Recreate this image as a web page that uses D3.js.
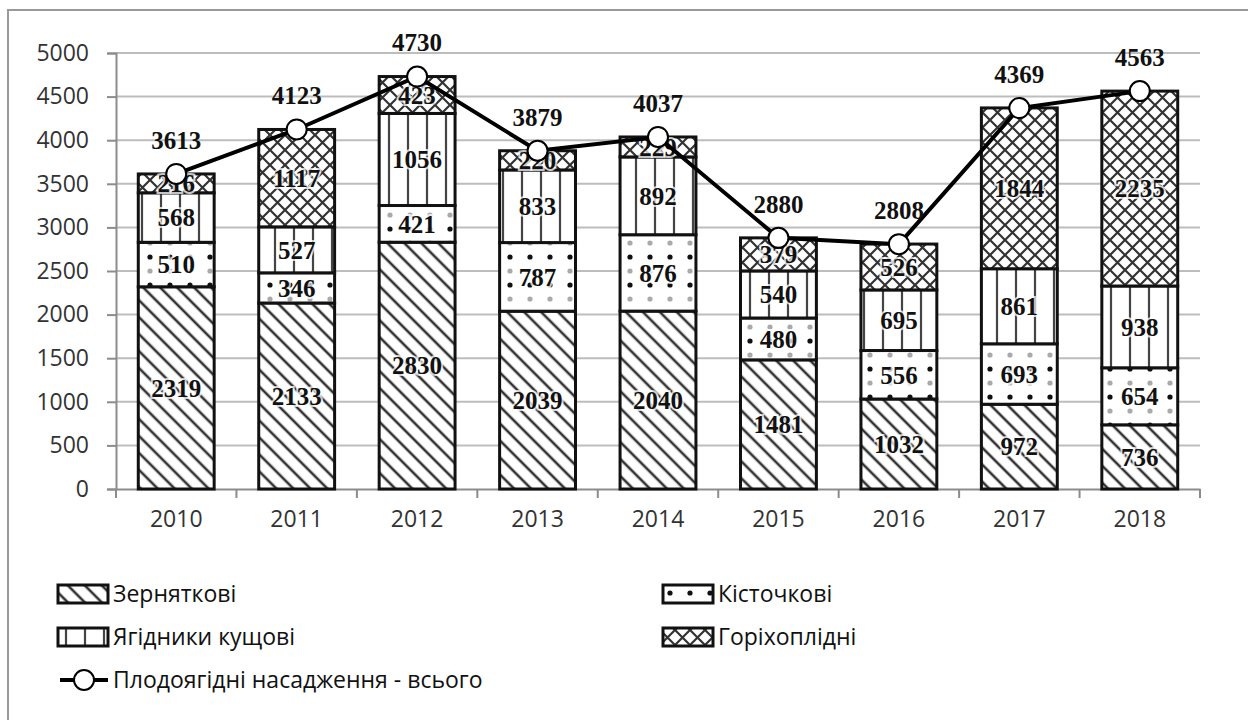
<!DOCTYPE html>
<html>
<head>
<meta charset="utf-8">
<script src="https://cdn.jsdelivr.net/npm/d3@7"></script>
<style>
  body { margin: 0; background: #fff; }
  svg { display: block; }
</style>
</head>
<body>
<div id="chart"></div>
<script>
var years = ["2010", "2011", "2012", "2013", "2014", "2015", "2016", "2017", "2018"];
var zernyatkovi = [2319, 2133, 2830, 2039, 2040, 1481, 1032, 972, 736];
var kistochkovi = [510, 346, 421, 787, 876, 480, 556, 693, 654];
var yagidnyky = [568, 527, 1056, 833, 892, 540, 695, 861, 938];
var horikhoplidni = [216, 1117, 423, 220, 229, 379, 526, 1844, 2235];
var vsogo = [3613, 4123, 4730, 3879, 4037, 2880, 2808, 4369, 4563];
var yTicks = [0, 500, 1000, 1500, 2000, 2500, 3000, 3500, 4000, 4500, 5000];

var seriesNames = ["Зерняткові", "Кісточкові", "Ягідники кущові", "Горіхоплідні"];
var lineName = "Плодоягідні насадження - всього";
var patIds = ["pDiag", "pDots", "pVert", "pCross"];

var width = 1248, height = 720;

var svg = d3.select("#chart").append("svg")
    .attr("width", width)
    .attr("height", height);

// patterns
var defs = svg.append("defs");

var p1 = defs.append("pattern").attr("id", "pDiag")
    .attr("patternUnits", "userSpaceOnUse")
    .attr("width", 12).attr("height", 12)
    .attr("patternTransform", "rotate(-45)");
p1.append("rect").attr("width", 12).attr("height", 12).attr("fill", "#fff");
p1.append("line").attr("x1", 6).attr("x2", 6).attr("y1", 0).attr("y2", 12)
    .attr("stroke", "#333").attr("stroke-width", 2.6);

var p2 = defs.append("pattern").attr("id", "pDots")
    .attr("patternUnits", "userSpaceOnUse")
    .attr("width", 20).attr("height", 28);
p2.append("rect").attr("width", 20).attr("height", 28).attr("fill", "#fff");
p2.append("circle").attr("cx", 10).attr("cy", 5).attr("r", 2.6).attr("fill", "#111");
p2.append("circle").attr("cx", 10).attr("cy", 19).attr("r", 2.6).attr("fill", "#aaa");

var p3 = defs.append("pattern").attr("id", "pVert")
    .attr("patternUnits", "userSpaceOnUse")
    .attr("width", 19).attr("height", 10);
p3.append("rect").attr("width", 19).attr("height", 10).attr("fill", "#fff");
p3.append("line").attr("x1", 9).attr("x2", 9).attr("y1", 0).attr("y2", 10)
    .attr("stroke", "#444").attr("stroke-width", 2.2);

var p4 = defs.append("pattern").attr("id", "pCross")
    .attr("patternUnits", "userSpaceOnUse")
    .attr("width", 15).attr("height", 15);
p4.append("rect").attr("width", 15).attr("height", 15).attr("fill", "#fff");
p4.append("path").attr("d", "M0,0L15,15M15,0L0,15")
    .attr("stroke", "#333").attr("stroke-width", 2.2).attr("fill", "none");

// frame
svg.append("rect")
    .attr("x", 8).attr("y", 10)
    .attr("width", 1300).attr("height", 800)
    .attr("fill", "none")
    .attr("stroke", "#999")
    .attr("stroke-width", 2);

var x = d3.scaleBand().domain(years).range([116, 1200])
    .paddingInner(0.37).paddingOuter(0.185);
var y = d3.scaleLinear().domain([0, 5000]).range([489, 53]);

// grid
svg.append("g").selectAll("line").data(yTicks.slice(1)).enter().append("line")
    .attr("x1", 116).attr("x2", 1200)
    .attr("y1", function(d){ return y(d); })
    .attr("y2", function(d){ return y(d); })
    .attr("stroke", "#bdbdbd").attr("stroke-width", 2);

// y axis
var yAxis = svg.append("g").attr("transform", "translate(116,0)")
    .call(d3.axisLeft(y).tickValues(yTicks).tickFormat(d3.format("d")).tickSize(9).tickPadding(18));
yAxis.select(".domain").attr("stroke", "#8c8c8c").attr("stroke-width", 2);
yAxis.selectAll(".tick line").attr("stroke", "#8c8c8c").attr("stroke-width", 2);
yAxis.selectAll("text")
    .style("font-family", "'Open Sans', sans-serif")
    .style("font-size", "23px")
    .attr("fill", "#333");

// x axis
var xAxis = svg.append("g").attr("transform", "translate(0,489)")
    .call(d3.axisBottom(x).tickSize(0).tickPadding(22));
xAxis.select(".domain").attr("stroke", "#8c8c8c").attr("stroke-width", 2);
xAxis.selectAll("text")
    .style("font-family", "'Open Sans', sans-serif")
    .style("font-size", "23px")
    .attr("fill", "#333");
var bounds = d3.range(years.length + 1).map(function(i){ return 116 + i * x.step(); });
xAxis.selectAll(".bnd").data(bounds).enter().append("line")
    .attr("x1", function(d){ return d; }).attr("x2", function(d){ return d; })
    .attr("y1", 0).attr("y2", 9)
    .attr("stroke", "#8c8c8c").attr("stroke-width", 2);

// stacked bars
var rows = years.map(function(yr, i){
    return { year: yr, v: [zernyatkovi[i], kistochkovi[i], yagidnyky[i], horikhoplidni[i]] };
});
var keys = [0, 1, 2, 3];
var stacked = d3.stack().keys(keys).value(function(d, k){ return d.v[k]; })(rows);

var layers = svg.append("g").selectAll("g").data(stacked).enter().append("g");
layers.selectAll("rect").data(function(d){ return d.map(function(s){ s.key = d.key; return s; }); })
    .enter().append("rect")
    .attr("x", function(d){ return x(d.data.year); })
    .attr("width", x.bandwidth())
    .attr("y", function(d){ return y(d[1]); })
    .attr("height", function(d){ return y(d[0]) - y(d[1]); })
    .attr("fill", function(d){ return "url(#" + patIds[d.key] + ")"; })
    .attr("stroke", "#111")
    .attr("stroke-width", 3);

layers.selectAll("text").data(function(d){ return d; })
    .enter().append("text")
    .attr("x", function(d){ return x(d.data.year) + x.bandwidth() / 2; })
    .attr("y", function(d){ return (y(d[0]) + y(d[1])) / 2; })
    .attr("dy", "0.35em")
    .attr("text-anchor", "middle")
    .style("font-family", "'Liberation Serif', serif")
    .style("font-weight", "bold")
    .style("font-size", "25px")
    .style("paint-order", "stroke")
    .attr("stroke", "rgba(255,255,255,0.75)")
    .attr("stroke-width", 4)
    .attr("fill", "#111")
    .text(function(d){ return d.data.v[d.key]; });

// total line
var line = d3.line()
    .x(function(d, i){ return x(years[i]) + x.bandwidth() / 2; })
    .y(function(d){ return y(d); });
svg.append("path").datum(vsogo)
    .attr("d", line)
    .attr("fill", "none")
    .attr("stroke", "#000")
    .attr("stroke-width", 4);
svg.append("g").selectAll("circle").data(vsogo).enter().append("circle")
    .attr("cx", function(d, i){ return x(years[i]) + x.bandwidth() / 2; })
    .attr("cy", function(d){ return y(d); })
    .attr("r", 10)
    .attr("fill", "#fff")
    .attr("stroke", "#000")
    .attr("stroke-width", 2);
svg.append("g").selectAll("text").data(vsogo).enter().append("text")
    .attr("x", function(d, i){ return x(years[i]) + x.bandwidth() / 2; })
    .attr("y", function(d){ return y(d) - 34; })
    .attr("dy", "0.35em")
    .attr("text-anchor", "middle")
    .style("font-family", "'Liberation Serif', serif")
    .style("font-weight", "bold")
    .style("font-size", "25px")
    .attr("fill", "#111")
    .text(function(d){ return d; });

// legend
var legPos = [[62, 594], [667, 594], [62, 637], [667, 637]];
var leg = svg.append("g");
seriesNames.forEach(function(name, i){
    var p = legPos[i];
    leg.append("rect")
        .attr("x", p[0] - 4).attr("y", p[1] - 9)
        .attr("width", 50).attr("height", 18)
        .attr("fill", "url(#" + patIds[i] + ")")
        .attr("stroke", "#111").attr("stroke-width", 3);
    leg.append("text")
        .attr("x", p[0] + 51).attr("y", p[1])
        .attr("dy", "0.35em")
        .style("font-family", "'Open Sans', sans-serif")
        .style("font-size", "23px")
        .attr("fill", "#111")
        .text(name);
});
leg.append("line")
    .attr("x1", 60).attr("x2", 108).attr("y1", 680).attr("y2", 680)
    .attr("stroke", "#000").attr("stroke-width", 4);
leg.append("circle")
    .attr("cx", 84).attr("cy", 680).attr("r", 10)
    .attr("fill", "#fff").attr("stroke", "#000").attr("stroke-width", 2);
leg.append("text")
    .attr("x", 113).attr("y", 680)
    .attr("dy", "0.35em")
    .style("font-family", "'Open Sans', sans-serif")
    .style("font-size", "23px")
    .attr("fill", "#111")
    .text(lineName);
</script>
</body>
</html>
